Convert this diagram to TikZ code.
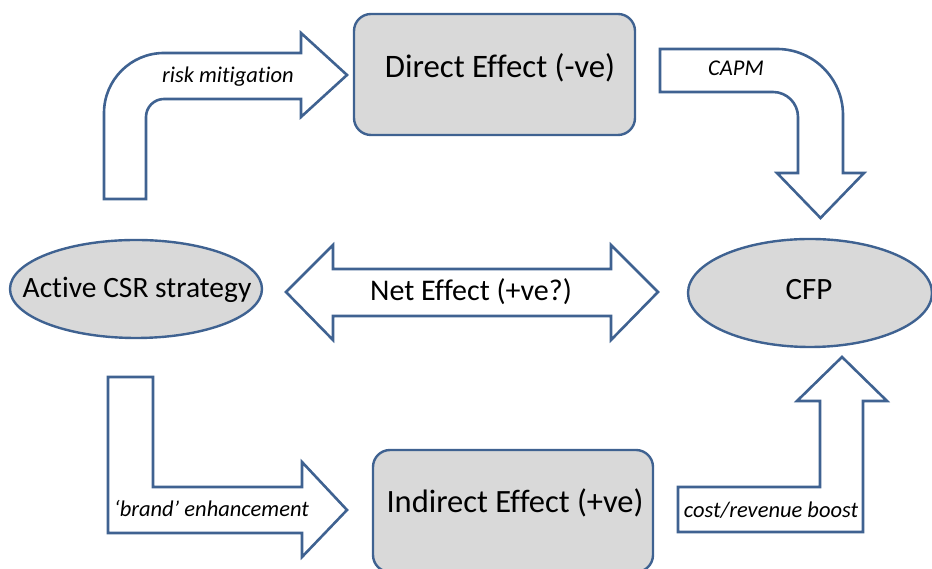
\documentclass[tikz,border=0pt]{standalone}
\usepackage{fontspec}
\setmainfont{Carlito}[Ligatures=NoCommon]
\usetikzlibrary{positioning, shapes.geometric}

\definecolor{edgeblue}{HTML}{3F6291}
\definecolor{boxgray}{HTML}{D9D9D9}

\begin{document}
\begin{tikzpicture}[
    x=1pt, y=1pt,
    line join=miter,
    effect/.style={
        rectangle,
        rounded corners=17pt,
        draw=edgeblue,
        line width=2.4pt,
        fill=boxgray,
        minimum width=281pt,
        minimum height=121pt,
        inner sep=0pt
    },
    blob/.style={
        ellipse,
        draw=edgeblue,
        line width=2.4pt,
        fill=boxgray,
        inner sep=0pt
    },
    bigtext/.style={font=\fontsize{#1}{36}\selectfont, inner sep=0pt},
    bigtext/.default=31,
    smalltext/.style={font=\fontsize{22.5}{27}\selectfont\itshape, inner sep=0pt},
    blockarrow/.style={draw=edgeblue, line width=2.6pt, fill=white}
]

\useasboundingbox (0,0) rectangle (932,569);
\clip (0,0) rectangle (932,569);

% block arrows
\draw[blockarrow] (104,370) -- (104,456) arc[start angle=180, end angle=90, radius=60]
    -- (301,516) -- (301,536) -- (347,494) -- (301,452) -- (301,470) -- (164,470)
    arc[start angle=90, end angle=180, radius=18] -- (146,370) -- cycle;

\draw[blockarrow] (660,520) -- (777,520) arc[start angle=90, end angle=0, radius=66]
    -- (843,396) -- (864,396) -- (820.5,351) -- (777,396) -- (798,396) -- (798,452)
    arc[start angle=0, end angle=90, radius=25] -- (660,477) -- cycle;

\draw[blockarrow] (108,192) -- (153,192) -- (153,82) -- (302,82) -- (302,107)
    -- (347,59) -- (302,12) -- (302,36) -- (108,36) -- cycle;

\draw[blockarrow] (678,37) -- (678,82) -- (820,82) -- (820,168) -- (797,168)
    -- (842,212) -- (887,168) -- (863,168) -- (863,37) -- cycle;

\draw[blockarrow] (286,277) -- (333,324) -- (333,300) -- (611,300) -- (611,324)
    -- (658,277) -- (611,229) -- (611,253) -- (333,253) -- (333,229) -- cycle;

% effects and ends
\node[effect] (direct) at (494.5,494.5) {};
\node[bigtext=32.8] (directtxt) at (500,501) {Direct Effect (-ve)};

\node[effect, minimum width=280pt, minimum height=122pt] (indirect) at (513,58) {};
\node[bigtext=32.5] (indirecttxt) at (515,66) {Indirect Effect (+ve)};

\node[blob, minimum width=252pt, minimum height=98pt] (csr) at (136,280) {};
\node[bigtext=29.5] (csrtxt) at (137,279) {Active CSR strategy};

\node[blob, minimum width=244pt, minimum height=108pt] (cfp) at (810,276) {};
\node[bigtext] (cfptxt) at (809,279) {CFP};

% arrow labels
\node[bigtext=30] (net) at (471,277) {Net Effect (+ve?)};
\node[smalltext] (risk) at (228,492) {risk mitigation};
\node[smalltext] (capm) at (736,501) {CAPM};
\node[smalltext] (brand) at (211.5,61) {`brand' enhancement};
\node[smalltext] (boost) at (771,59) {cost/revenue boost};

\end{tikzpicture}
\end{document}
